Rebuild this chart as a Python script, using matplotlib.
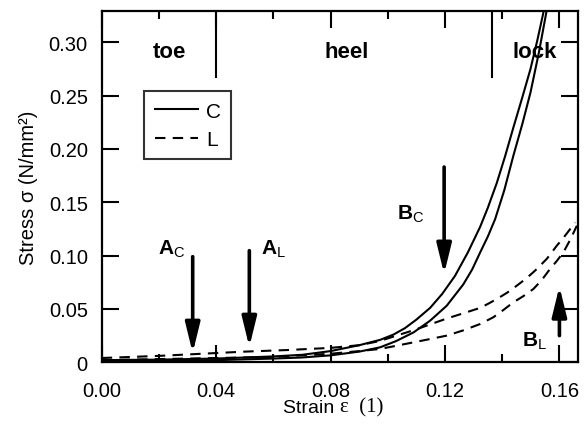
import matplotlib
matplotlib.use("Agg")
import matplotlib.pyplot as plt
from matplotlib.ticker import MultipleLocator

plt.rcParams['font.family'] = ['Liberation Sans', 'DejaVu Sans']
plt.rcParams['mathtext.fontset'] = 'custom'
plt.rcParams['mathtext.rm'] = 'Liberation Sans'
plt.rcParams['mathtext.bf'] = 'Liberation Sans:bold'

# ---- data (strain, stress) ----
c_upper_x = [0.000, 0.020, 0.040, 0.060, 0.070, 0.080, 0.090, 0.0973, 0.102, 0.106, 0.110, 0.1148, 0.119, 0.1235,
             0.128, 0.1323, 0.135, 0.1381, 0.141, 0.1439, 0.147, 0.1499, 0.1523, 0.1545]
c_upper_y = [0.002, 0.0025, 0.0035, 0.0055, 0.007, 0.0105, 0.016, 0.021, 0.026, 0.032, 0.040, 0.051, 0.064, 0.081,
             0.103, 0.127, 0.145, 0.168, 0.193, 0.220, 0.248, 0.275, 0.302, 0.329]
c_lower_x = [0.000, 0.020, 0.040, 0.060, 0.070, 0.080, 0.090, 0.0973, 0.103, 0.109, 0.1148, 0.1206, 0.1264, 0.1295,
             0.1323, 0.135, 0.1375, 0.1407, 0.1439, 0.147, 0.1499, 0.1528, 0.1555]
c_lower_y = [0.001, 0.0015, 0.002, 0.0035, 0.0045, 0.0065, 0.010, 0.014, 0.020, 0.028, 0.039, 0.053, 0.073, 0.087,
             0.103, 0.118, 0.134, 0.161, 0.1936, 0.223, 0.253, 0.290, 0.329]
l_upper_x = [0.000, 0.020, 0.035, 0.050, 0.065, 0.080, 0.090, 0.0973, 0.103, 0.109, 0.1148, 0.1206, 0.1265, 0.1323,
             0.1352, 0.1381, 0.1416, 0.1451, 0.1486, 0.1521, 0.1556, 0.1591, 0.1615, 0.1638, 0.1655]
l_upper_y = [0.004, 0.006, 0.008, 0.010, 0.0115, 0.0135, 0.016, 0.020, 0.025, 0.030, 0.0355, 0.041, 0.046, 0.051,
             0.055, 0.0593, 0.065, 0.0718, 0.079, 0.0874, 0.097, 0.1093, 0.117, 0.125, 0.131]
l_lower_x = [0.000, 0.020, 0.040, 0.060, 0.070, 0.080, 0.090, 0.0973, 0.103, 0.109, 0.1148, 0.1206, 0.1265, 0.1323,
             0.1369, 0.1404, 0.1439, 0.1474, 0.1509, 0.1538, 0.1567, 0.1591, 0.1614, 0.1638, 0.1661]
l_lower_y = [0.002, 0.003, 0.004, 0.005, 0.0065, 0.008, 0.0105, 0.0125, 0.0155, 0.0187, 0.0218, 0.025, 0.030, 0.0359,
             0.0422, 0.049, 0.0562, 0.062, 0.0687, 0.077, 0.0874, 0.095, 0.1031, 0.115, 0.128]

series_labels = ['C', 'L']
x_ticks = [0.00, 0.04, 0.08, 0.12, 0.16]
x_tick_labels = ['0.00', '0.04', '0.08', '0.12', '0.16']
y_ticks = [0.00, 0.05, 0.10, 0.15, 0.20, 0.25, 0.30]
y_tick_labels = ['0', '0.05', '0.10', '0.15', '0.20', '0.25', '0.30']

region_names = ['toe', 'heel', 'lock']
region_label_x = [0.0236, 0.0857, 0.1515]
region_bounds = [0.040, 0.1366]

# arrows
arrow_labels = [r'$\mathbf{A}_{\mathrm{C}}$', r'$\mathbf{A}_{\mathrm{L}}$', r'$\mathbf{B}_{\mathrm{C}}$', r'$\mathbf{B}_{\mathrm{L}}$']
arrow_x = [0.0318, 0.0516, 0.1197, 0.1600]
arrow_y_start = [0.099, 0.1046, 0.183, 0.025]
arrow_y_end = [0.0087, 0.0143, 0.0828, 0.0712]
arrow_label_x = [0.0195, 0.0558, 0.1031, 0.1468]
arrow_label_y = [0.107, 0.107, 0.140, 0.021]

XMAX, YMAX = 0.1664, 0.3295

fig = plt.figure(figsize=(5.87, 4.27), dpi=100)
ax = fig.add_axes([0.1733, 0.1492, 0.9842 - 0.1733, 0.9726 - 0.1492])

dash = (0, (5, 3.5))
ax.plot(c_upper_x, c_upper_y, color='black', lw=1.5, label=series_labels[0])
ax.plot(c_lower_x, c_lower_y, color='black', lw=1.5)
ax.plot(l_upper_x, l_upper_y, color='black', lw=1.5, ls=dash, label=series_labels[1])
ax.plot(l_lower_x, l_lower_y, color='black', lw=1.5, ls=dash)

ax.set_xlim(0, XMAX)
ax.set_ylim(0, YMAX)

ax.set_xticks(x_ticks)
ax.set_xticklabels(x_tick_labels)
ax.xaxis.set_minor_locator(MultipleLocator(0.02))
ax.set_yticks(y_ticks)
ax.set_yticklabels(y_tick_labels)

ax.tick_params(axis='both', which='major', direction='in', length=12, width=1.5,
               labelsize=14.5, top=True, right=True)
ax.tick_params(axis='x', which='major', pad=13.5)
ax.tick_params(axis='y', which='major', pad=10)
ax.tick_params(axis='x', which='minor', direction='in', length=6, width=1.5,
               top=True, bottom=True)
for s in ax.spines.values():
    s.set_linewidth(1.6)

# region boundary lines from top
for b in region_bounds:
    ax.axvline(b, ymin=(0.267 / YMAX), ymax=1, color='black', lw=1.5)
for name, xx in zip(region_names, region_label_x):
    ax.text(xx, 0.291, name, ha='center', va='center', fontsize=16, fontweight='bold')

# arrows
for lab, xa, y0, y1, lx, ly in zip(arrow_labels, arrow_x, arrow_y_start, arrow_y_end,
                                    arrow_label_x, arrow_label_y):
    ax.annotate('', xy=(xa, y1), xytext=(xa, y0),
                arrowprops=dict(arrowstyle='-|>,head_length=0.9,head_width=0.22',
                                mutation_scale=20, lw=2.6, color='black',
                                shrinkA=0, shrinkB=0))
    ax.text(lx, ly, lab, ha='left', va='center', fontsize=15)

leg = ax.legend(loc='upper left', bbox_to_anchor=(0.0895, 0.771), borderaxespad=0,
                fontsize=15, frameon=True, fancybox=False, handlelength=2.1,
                handletextpad=0.35, borderpad=0.5, labelspacing=0.45)
leg.get_frame().set_edgecolor('black')
leg.get_frame().set_linewidth(1.5)

ax.set_ylabel('Stress σ (N/mm²)', fontsize=14.5, labelpad=8)
t1 = ax.text(0.5, -0.105, 'Strain ', transform=ax.transAxes, ha='right', va='top', fontsize=14)
ax.annotate('ε  (1)', xy=(1, 0), xycoords=t1, ha='left', va='bottom',
            fontsize=15, family='Liberation Serif')

fig.savefig('out.png', dpi=100)
